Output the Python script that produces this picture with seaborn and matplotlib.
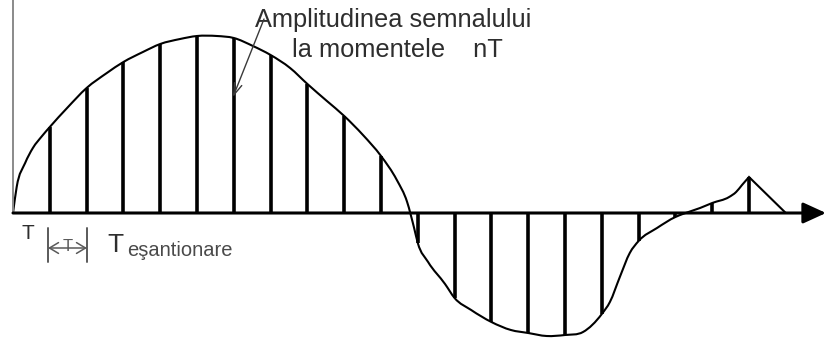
import matplotlib
matplotlib.use("Agg")
import matplotlib.pyplot as plt
from matplotlib.path import Path
from matplotlib.patches import PathPatch
import numpy as np
import pandas as pd
import seaborn as sns

sns.set_theme(style="white")
plt.rcParams["font.family"] = ["Liberation Sans", "DejaVu Sans"]

# Sampling instants n (in units of the sampling period T) and signal amplitude at each instant
sample_n = list(range(22))
sample_amp = [0.00, 0.86, 1.25, 1.51, 1.69, 1.77, 1.75, 1.58, 1.29, 0.97, 0.57,
              -0.30, -0.85, -1.09, -1.20, -1.22, -1.01, -0.28, -0.04, 0.10, 0.36, 0.00]

# Extra points of the continuous signal between the sampling instants
between_t = [0.10, 0.33, 0.54, 0.79, 1.47, 2.55, 3.53, 4.54, 5.54, 6.52, 7.53, 8.53, 9.51,
             10.43, 10.71, 10.90, 11.28, 11.74, 12.45, 13.53, 14.5, 15.49,
             16.22, 16.49, 16.76, 17.5, 18.2, 18.67, 19.46, 19.65, 19.81]
between_amp = [0.26, 0.50, 0.65, 0.77, 1.05, 1.40, 1.61, 1.74, 1.77, 1.67, 1.45, 1.12, 0.78,
               0.33, 0.11, -0.15, -0.49, -0.71, -0.97, -1.17, -1.23, -1.19,
               -0.89, -0.64, -0.40, -0.15, -0.01, 0.05, 0.16, 0.21, 0.28]

title_lines = ["Amplitudinea semnalului", "la momentele    nT"]
period_label = "T"
sampling_label = "T"
sampling_sub = "eşantionare"

W, H = 827, 339
X0, Y0, STEP, UNIT = 13, 213, 36.8, 100.0


def px(x, y):
    """Pixel position -> data coordinates (t in periods, amplitude)."""
    return (x - X0) / STEP, (Y0 - y) / UNIT


def smooth_path(t, v):
    """Cubic Hermite curve through the points, as Bezier segments."""
    t = np.asarray(t, float)
    v = np.asarray(v, float)
    h = np.diff(t)
    d = np.diff(v) / h
    m = np.empty_like(v)
    m[0], m[-1] = d[0], d[-1]
    m[1:-1] = (d[:-1] * h[1:] + d[1:] * h[:-1]) / (h[:-1] + h[1:])
    verts = [(t[0], v[0])]
    codes = [Path.MOVETO]
    for i in range(len(h)):
        verts += [(t[i] + h[i] / 3, v[i] + m[i] * h[i] / 3),
                  (t[i + 1] - h[i] / 3, v[i + 1] - m[i + 1] * h[i] / 3),
                  (t[i + 1], v[i + 1])]
        codes += [Path.CURVE4] * 3
    return verts, codes


fig = plt.figure(figsize=(W / 100, H / 100), dpi=100)
ax = fig.add_axes([0, 0, 1, 1])
ax.set_axis_off()
xl0, yl0 = px(0, H)
xl1, yl1 = px(W, 0)
ax.set_xlim(xl0, xl1)
ax.set_ylim(yl0, yl1)

# continuous signal: smooth up to the last non-zero sample, then straight to zero
pts = pd.DataFrame({"t": sample_n[:-1] + between_t,
                    "amp": sample_amp[:-1] + between_amp}).sort_values("t")
verts, codes = smooth_path(pts["t"], pts["amp"])
verts.append((sample_n[-1], sample_amp[-1]))
codes.append(Path.LINETO)
ax.add_patch(PathPatch(Path(verts, codes), facecolor="none", edgecolor="black",
                       lw=1.5, capstyle="butt", joinstyle="miter"))

# sampled values as stems
stems = pd.DataFrame({
    "n": [n for n, a in zip(sample_n, sample_amp) if a != 0 for _ in (0, 1)],
    "t": [n for n, a in zip(sample_n, sample_amp) if a != 0 for _ in (0, 1)],
    "amp": [y for a in sample_amp if a != 0 for y in (0.0, a)],
})
sns.lineplot(data=stems, x="t", y="amp", units="n", estimator=None, sort=False,
             color="black", lw=2.6, solid_capstyle="butt", ax=ax, legend=False)

# time axis with arrow
tip = px(826, Y0)
ax.annotate("", xy=tip, xytext=(0, 0),
            arrowprops=dict(arrowstyle="-|>,head_length=0.7,head_width=0.32",
                            mutation_scale=20, lw=2.2, color="black",
                            shrinkA=0, shrinkB=0))
# amplitude axis
ax.plot([0, 0], [0, yl1], color="#8a8a8a", lw=1.4, solid_capstyle="butt")

txt = "#2e2e2e"
ax.text(*px(255, 27), title_lines[0], fontsize=18.3, color=txt, ha="left", va="baseline")
ax.text(*px(292, 57), title_lines[1], fontsize=18.3, color=txt, ha="left", va="baseline")
ax.annotate("", xy=px(233, 97), xytext=px(264, 19),
            arrowprops=dict(arrowstyle="->,head_length=0.6,head_width=0.2",
                            mutation_scale=14, lw=1.0, color="#3a3a3a",
                            shrinkA=0, shrinkB=0))

# period marker below the axis
ax.text(*px(22, 239), period_label, fontsize=15, color=txt, ha="left", va="baseline")
for xx in (48, 87):
    ax.plot(*zip(px(xx, 228), px(xx, 262)), color="#5a5a5a", lw=1.4)
ax.annotate("", xy=px(87, 248), xytext=px(48, 248),
            arrowprops=dict(arrowstyle="<->,head_length=0.5,head_width=0.3",
                            mutation_scale=13, lw=1.1, color="#5a5a5a",
                            shrinkA=0, shrinkB=0))
ax.text(*px(67.5, 251), "T", fontsize=12, color="#5a5a5a", ha="center", va="baseline")

ax.text(*px(107, 252), sampling_label, fontsize=19, color=txt, ha="left", va="baseline")
ax.text(*px(127, 256), sampling_sub, fontsize=14.5, color="#4a4a4a", ha="left", va="baseline")

fig.savefig("out.png", dpi=100)
